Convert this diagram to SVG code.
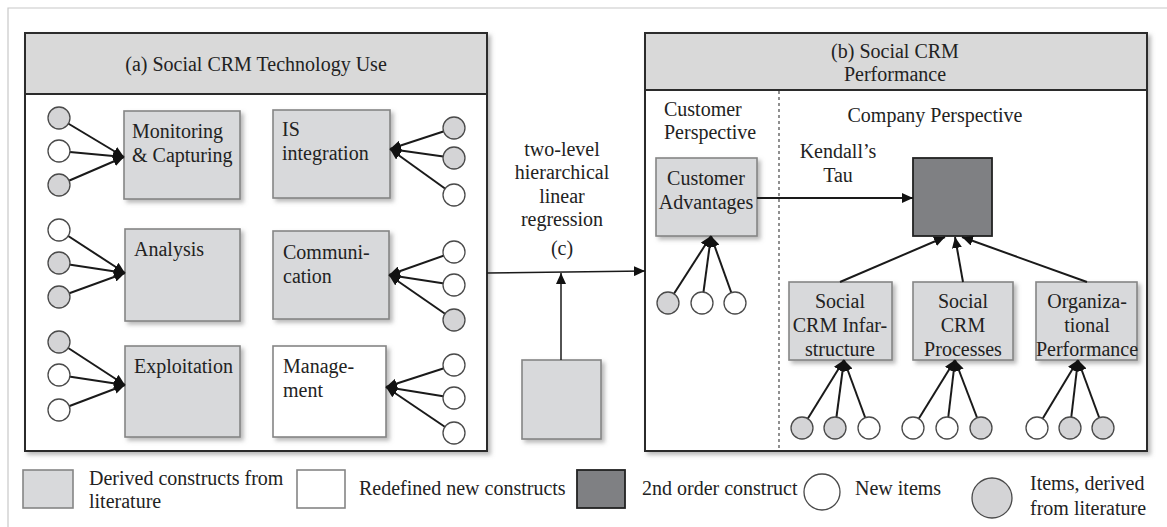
<svg xmlns="http://www.w3.org/2000/svg" width="1167" height="527" viewBox="0 0 1167 527">
  <style>
    text { font-family: "Liberation Serif", Tinos, "Times New Roman", Times, "Noto Serif", "DejaVu Serif", serif; font-size: 20px; fill: #222; }
    .mid { text-anchor: middle; }
    .panel { fill: #ffffff; stroke: #2b2b2b; stroke-width: 2; }
    .head { fill: #d9d9d9; stroke: #2b2b2b; stroke-width: 2; }
    .box { fill: #d8d9db; stroke: #858585; stroke-width: 1.6; }
    .newbox { fill: #ffffff; stroke: #858585; stroke-width: 1.6; }
    .second { fill: #7f8083; stroke: #222; stroke-width: 1.8; }
    .item { stroke: #4a4a4a; stroke-width: 1.3; }
    .lit { fill: #d4d4d6; }
    .new { fill: #ffffff; }
    .link { stroke: #1a1a1a; stroke-width: 2; fill: none; marker-end: url(#head); }
    .thin { stroke: #1a1a1a; stroke-width: 1.5; fill: none; marker-end: url(#head); }
    .frame { stroke: #c8c8c8; stroke-width: 1.2; fill: none; }
  </style>
  <defs>
    <marker id="head" markerUnits="userSpaceOnUse" markerWidth="12" markerHeight="10" refX="11" refY="5" orient="auto">
      <path d="M0,0 L11,5 L0,10 z" fill="#111"/>
    </marker>
    <filter id="shadow" x="-10%" y="-10%" width="130%" height="130%">
      <feDropShadow dx="3" dy="3" stdDeviation="2" flood-color="#8a8a8a" flood-opacity="0.6"/>
    </filter>
  </defs>

  <rect width="1167" height="527" fill="#ffffff"/>
  <!-- page frame -->
  <path class="frame" d="M8,527 V8 H1167"/>

  <!-- (a) panel -->
  <g id="panel-a">
    <rect class="panel" x="25" y="33" width="462" height="418" filter="url(#shadow)"/>
    <rect class="head" x="25" y="33" width="462" height="61"/>
    <text class="mid" x="256" y="71" font-family="Liberation Serif, serif">(a) Social CRM Technology  Use</text>
  </g>

  <!-- (b) panel -->
  <g id="panel-b">
    <rect class="panel" x="645" y="33" width="502" height="418" filter="url(#shadow)"/>
    <rect class="head" x="645" y="33" width="502" height="57"/>
    <text class="mid" x="895" y="58">(b) Social CRM</text>
    <text class="mid" x="895" y="81">Performance</text>
    <line x1="779" y1="91" x2="779" y2="451" stroke="#555" stroke-width="1.3" stroke-dasharray="3,3"/>
    <text x="664" y="116">Customer</text>
    <text x="664" y="139">Perspective</text>
    <text class="mid" x="935" y="122">Company Perspective</text>
    <text class="mid" x="838" y="158">Kendall’s</text>
    <text class="mid" x="838" y="182">Tau</text>
  </g>

  <!-- first order constructs of (a) -->
  <g id="monitoring">
    <rect class="box" x="124" y="111" width="116" height="88" filter="url(#shadow)"/>
    <text x="132" y="138">Monitoring</text>
    <text x="132" y="162">&amp; Capturing</text>
  </g>
  <g id="is-integration">
    <rect class="box" x="273" y="110" width="117" height="88" filter="url(#shadow)"/>
    <text x="282" y="136">IS</text>
    <text x="282" y="160">integration</text>
  </g>
  <g id="analysis">
    <rect class="box" x="125" y="229" width="115" height="92" filter="url(#shadow)"/>
    <text x="134" y="256">Analysis</text>
  </g>
  <g id="communication">
    <rect class="box" x="273" y="231" width="116" height="88" filter="url(#shadow)"/>
    <text x="283" y="259">Communi-</text>
    <text x="283" y="283">cation</text>
  </g>
  <g id="exploitation">
    <rect class="box" x="125" y="346" width="115" height="91" filter="url(#shadow)"/>
    <text x="134" y="373">Exploitation</text>
  </g>
  <g id="management">
    <rect class="newbox" x="273" y="346" width="113" height="91" filter="url(#shadow)"/>
    <text x="283" y="373">Manage-</text>
    <text x="283" y="397">ment</text>
  </g>

  <!-- regression control construct -->
  <g id="control">
    <rect class="box" x="522" y="360" width="79" height="79" filter="url(#shadow)"/>
  </g>
  <g id="regression-label">
    <text class="mid" x="562" y="156">two-level</text>
    <text class="mid" x="562" y="179">hierarchical</text>
    <text class="mid" x="562" y="203">linear</text>
    <text class="mid" x="562" y="226">regression</text>
    <text class="mid" x="562" y="255">(c)</text>
  </g>

  <!-- constructs of (b) -->
  <g id="customer-advantages">
    <rect class="box" x="656" y="158" width="101" height="78" filter="url(#shadow)"/>
    <text class="mid" x="706" y="185">Customer</text>
    <text class="mid" x="706" y="209">Advantages</text>
  </g>
  <g id="performance-2nd">
    <rect class="second" x="913" y="158" width="79" height="78"/>
  </g>
  <g id="infrastructure">
    <rect class="box" x="789" y="282" width="103" height="78" filter="url(#shadow)"/>
    <text class="mid" x="840" y="308">Social</text>
    <text class="mid" x="840" y="332">CRM Infar-</text>
    <text class="mid" x="840" y="356">structure</text>
  </g>
  <g id="processes">
    <rect class="box" x="913" y="282" width="100" height="78" filter="url(#shadow)"/>
    <text class="mid" x="963" y="308">Social</text>
    <text class="mid" x="963" y="332">CRM</text>
    <text class="mid" x="963" y="356">Processes</text>
  </g>
  <g id="organizational">
    <rect class="box" x="1036" y="282" width="101" height="78" filter="url(#shadow)"/>
    <text class="mid" x="1087" y="308">Organiza-</text>
    <text class="mid" x="1087" y="332">tional</text>
    <text class="mid" x="1087" y="356">Performance</text>
  </g>

  <!-- connectors -->
  <g id="connectors">
    <!-- items to (a) constructs -->
    <line class="link" x1="59" y1="118" x2="124" y2="157"/>
    <line class="link" x1="59" y1="151" x2="124" y2="157"/>
    <line class="link" x1="59" y1="185" x2="124" y2="157"/>
    <line class="link" x1="454" y1="128" x2="390" y2="149"/>
    <line class="link" x1="454" y1="158" x2="390" y2="149"/>
    <line class="link" x1="454" y1="195" x2="390" y2="149"/>
    <line class="link" x1="59" y1="230" x2="125" y2="273"/>
    <line class="link" x1="59" y1="263" x2="125" y2="273"/>
    <line class="link" x1="59" y1="297" x2="125" y2="273"/>
    <line class="link" x1="454" y1="252" x2="389" y2="275"/>
    <line class="link" x1="454" y1="285" x2="389" y2="275"/>
    <line class="link" x1="454" y1="320" x2="389" y2="275"/>
    <line class="link" x1="59" y1="342" x2="125" y2="385"/>
    <line class="link" x1="59" y1="375" x2="125" y2="385"/>
    <line class="link" x1="59" y1="410" x2="125" y2="385"/>
    <line class="link" x1="454" y1="365" x2="386" y2="387"/>
    <line class="link" x1="454" y1="398" x2="386" y2="387"/>
    <line class="link" x1="454" y1="433" x2="386" y2="387"/>
    <!-- (a) to (b) and control -->
    <line class="thin" x1="487" y1="273" x2="645" y2="271"/>
    <line class="thin" x1="561" y1="360" x2="561" y2="273"/>
    <!-- items to (b) constructs -->
    <line class="link" x1="668" y1="303" x2="711" y2="236"/>
    <line class="link" x1="702" y1="303" x2="711" y2="236"/>
    <line class="link" x1="735" y1="303" x2="711" y2="236"/>
    <line class="link" x1="802" y1="428" x2="844" y2="360"/>
    <line class="link" x1="835" y1="428" x2="844" y2="360"/>
    <line class="link" x1="869" y1="428" x2="844" y2="360"/>
    <line class="link" x1="913" y1="428" x2="955" y2="360"/>
    <line class="link" x1="947" y1="428" x2="955" y2="360"/>
    <line class="link" x1="981" y1="428" x2="955" y2="360"/>
    <line class="link" x1="1037" y1="428" x2="1078" y2="360"/>
    <line class="link" x1="1070" y1="428" x2="1078" y2="360"/>
    <line class="link" x1="1103" y1="428" x2="1078" y2="360"/>
    <!-- Kendall's Tau and first to second order -->
    <line class="link" x1="757" y1="198" x2="913" y2="198"/>
    <line class="link" x1="840" y1="282" x2="945" y2="237"/>
    <line class="link" x1="963" y1="282" x2="955" y2="237"/>
    <line class="link" x1="1087" y1="282" x2="962" y2="237"/>
  </g>

  <!-- measurement items -->
  <g id="items">
    <circle class="item lit" cx="59" cy="118" r="11"/>
    <circle class="item new" cx="59" cy="151" r="11"/>
    <circle class="item lit" cx="59" cy="185" r="11"/>
    <circle class="item lit" cx="454" cy="128" r="11"/>
    <circle class="item lit" cx="454" cy="158" r="11"/>
    <circle class="item new" cx="454" cy="195" r="11"/>
    <circle class="item new" cx="59" cy="230" r="11"/>
    <circle class="item lit" cx="59" cy="263" r="11"/>
    <circle class="item lit" cx="59" cy="297" r="11"/>
    <circle class="item new" cx="454" cy="252" r="11"/>
    <circle class="item new" cx="454" cy="285" r="11"/>
    <circle class="item lit" cx="454" cy="320" r="11"/>
    <circle class="item lit" cx="59" cy="342" r="11"/>
    <circle class="item new" cx="59" cy="375" r="11"/>
    <circle class="item new" cx="59" cy="410" r="11"/>
    <circle class="item new" cx="454" cy="365" r="11"/>
    <circle class="item new" cx="454" cy="398" r="11"/>
    <circle class="item new" cx="454" cy="433" r="11"/>
    <circle class="item lit" cx="668" cy="303" r="11"/>
    <circle class="item new" cx="702" cy="303" r="11"/>
    <circle class="item new" cx="735" cy="303" r="11"/>
    <circle class="item lit" cx="802" cy="428" r="11"/>
    <circle class="item lit" cx="835" cy="428" r="11"/>
    <circle class="item new" cx="869" cy="428" r="11"/>
    <circle class="item new" cx="913" cy="428" r="11"/>
    <circle class="item new" cx="947" cy="428" r="11"/>
    <circle class="item lit" cx="981" cy="428" r="11"/>
    <circle class="item new" cx="1037" cy="428" r="11"/>
    <circle class="item lit" cx="1070" cy="428" r="11"/>
    <circle class="item lit" cx="1103" cy="428" r="11"/>
  </g>

  <!-- legend -->
  <g id="legend">
    <rect class="box" x="23" y="470" width="50" height="38"/>
    <text x="89" y="485">Derived constructs from</text>
    <text x="89" y="508">literature</text>
    <rect class="newbox" x="297" y="470" width="48" height="38"/>
    <text x="359" y="495">Redefined new constructs</text>
    <rect class="second" x="577" y="470" width="48" height="38"/>
    <text x="642" y="495">2nd order construct</text>
    <circle class="item new" cx="822" cy="492" r="18"/>
    <text x="855" y="495">New items</text>
    <circle class="item lit" cx="992" cy="498" r="20"/>
    <text x="1030" y="490">Items, derived</text>
    <text x="1030" y="515">from literature</text>
  </g>
</svg>
